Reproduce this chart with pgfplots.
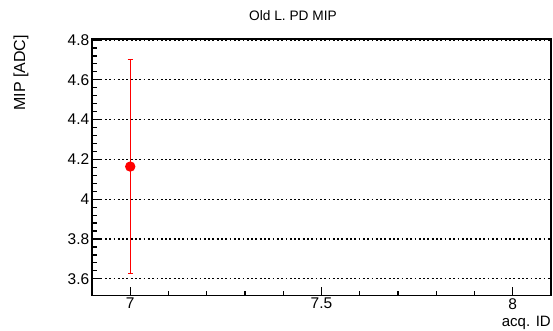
\documentclass[border=0pt]{standalone}
\usepackage{fontspec}
\setmainfont{Liberation Sans}
\usepackage{pgfplots}
\pgfplotsset{compat=1.18}
\begin{document}
\begin{tikzpicture}
\useasboundingbox (0,0) rectangle (553pt,331pt);
\begin{axis}[
  at={(92pt,35.3pt)}, anchor=south west,
  scale only axis, width=459pt, height=256.7pt,
  xmin=6.9, xmax=8.1, ymin=3.515, ymax=4.805,
  xtick={7,7.5,8}, ytick={3.6,3.8,4,4.2,4.4,4.6,4.8},
  minor x tick num=4, minor y tick num=4,
  tick pos=left, tick align=inside,
  axis line style={line width=1.3pt},
  every tick/.style={black, line width=1.2pt},
  major tick length=8.5pt, minor tick length=5pt,
  ymajorgrids,
  major grid style={black, line width=1.3pt, dash pattern=on 1.8pt off 2.5pt},
  /pgf/number format/assume math mode=true,
  tick label style={font=\fontsize{15.5}{18}\selectfont, inner sep=0pt},
  yticklabel style={xshift=-2.6pt},
  xticklabel style={yshift=-2.3pt},
]
\addplot[red, mark=*, mark size=4.4pt, line width=1.5pt,
  error bars/.cd, y dir=both, y explicit,
  error bar style={red, line width=1.5pt},
  error mark options={red, line width=1.5pt, mark size=2.6pt, rotate=90}]
  coordinates {(7,4.164) +- (0,0.538)};
\end{axis}
\node[font=\fontsize{13.7}{16}\selectfont, anchor=base] at (293pt,310.3pt) {Old L. PD MIP};
\node[font=\fontsize{15}{18}\selectfont, anchor=base east, inner sep=0pt] at (551pt,4pt) {acq. ID};
\node[font=\fontsize{16}{19}\selectfont, rotate=90, anchor=base east, inner sep=0pt] at (25pt,296pt) {MIP [ADC]};
\end{tikzpicture}
\end{document}
